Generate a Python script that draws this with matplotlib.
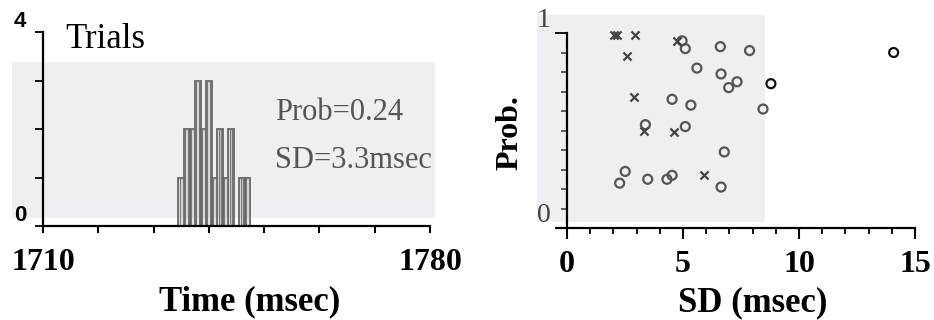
import matplotlib
matplotlib.use("Agg")
import matplotlib.pyplot as plt
from matplotlib.patches import Rectangle
import numpy as np

# histogram (left panel)
bin_times = [1735, 1736, 1737, 1738, 1739, 1740, 1741, 1742, 1743, 1744, 1745, 1746, 1747]
bin_counts = [1, 2, 2, 3, 2, 3, 1, 2, 1, 2, 0, 1, 1]
time_ticks = [1710, 1720, 1730, 1740, 1750, 1760, 1770, 1780]
time_labels = ["1710", "", "", "", "", "", "", "1780"]
trial_ticks = [0, 1, 2, 3, 4]
trial_labels = ["0", "", "", "", "4"]
stats = ["Prob=0.24", "SD=3.3msec"]

# scatter (right panel)
circle_sd = [4.96, 5.10, 6.61, 7.87, 5.60, 6.64, 7.33, 6.97, 4.53, 5.34, 3.38, 5.10,
             6.78, 2.51, 2.27, 3.48, 4.31, 4.53, 6.64, 8.79, 8.45, 14.08]
circle_prob = [0.96, 0.92, 0.93, 0.91, 0.82, 0.79, 0.75, 0.72, 0.66, 0.63, 0.53, 0.52,
               0.39, 0.29, 0.23, 0.25, 0.25, 0.27, 0.21, 0.74, 0.61, 0.90]
cross_sd = [2.02, 2.15, 2.95, 2.59, 4.74, 2.87, 3.30, 4.63, 5.89]
cross_prob = [0.99, 0.99, 0.99, 0.88, 0.96, 0.67, 0.50, 0.49, 0.27]
sd_ticks = [0, 5, 10, 15]
prob_ticks = [0, 1]

plt.rcParams['font.family'] = ['Liberation Serif', 'DejaVu Serif']

W, H = 934, 320
fig = plt.figure(figsize=(W / 100, H / 100), dpi=100)


def px_axes(x0, y0, x1, y1):
    ax = fig.add_axes([x0 / W, 1 - y1 / H, (x1 - x0) / W, (y1 - y0) / H])
    ax.set_zorder(2)
    ax.set_facecolor('none')
    return ax


def px_rect(x0, y0, x1, y1, color):
    fig.patches.append(Rectangle((x0 / W, 1 - y1 / H), (x1 - x0) / W, (y1 - y0) / H,
                                 transform=fig.transFigure, facecolor=color,
                                 edgecolor='none', zorder=-1))


# scanned paper tone behind the data
px_rect(12, 62, 435, 218, '#eeeef3')
px_rect(537, 15, 765, 222, '#eeeef3')

# ---- left: trial histogram
ax1 = px_axes(43, 32, 430, 226)
ax1.bar(bin_times, bin_counts, width=1.0, facecolor='none', edgecolor='#666666', lw=1.3)
ax1.bar(bin_times, bin_counts, width=0.5, facecolor='none', edgecolor='#777777', lw=1.0)
ax1.set_xlim(1710, 1780)
ax1.set_ylim(0, 4)
for s in ['top', 'right']:
    ax1.spines[s].set_visible(False)
for s in ['left', 'bottom']:
    ax1.spines[s].set_linewidth(1.6)
ax1.set_xticks(time_ticks, time_labels)
ax1.set_yticks(trial_ticks, trial_labels)
ax1.tick_params(axis='x', direction='out', length=5, width=1.5, pad=11,
                labelsize=23)
ax1.tick_params(axis='y', direction='out', length=6, width=1.3, pad=6,
                labelsize=16)
for lab in ax1.get_xticklabels():
    lab.set_fontweight('bold')
for lab in ax1.get_yticklabels():
    lab.set_va('bottom')
    lab.set_family('Liberation Sans')
    lab.set_fontweight('bold')

fig.text(65 / W, 1 - 40 / H, "Trials", fontsize=25, ha='left', va='center')
fig.text(275 / W, 1 - 112 / H, stats[0], fontsize=22, color='#555555', ha='left', va='center')
fig.text(275 / W, 1 - 160 / H, stats[1], fontsize=22, color='#555555', ha='left', va='center')
fig.text(250 / W, 1 - 302 / H, "Time (msec)", fontsize=25, fontweight='bold',
         ha='center', va='center')

# ---- right: probability vs SD
ax2 = px_axes(557, 33, 915, 228)
ax2.set_xlim(-0.43, 15)
ax2.set_ylim(0, 1)
ax2.spines['left'].set_position(('data', 0))
for s in ['top', 'right']:
    ax2.spines[s].set_visible(False)
for s in ['left', 'bottom']:
    ax2.spines[s].set_linewidth(1.6)

patch_edge = 8.5
c_col = ['#111111' if x > patch_edge else '#555555' for x in circle_sd]
ax2.scatter(circle_sd, circle_prob, s=42, marker='o', facecolors='none',
            edgecolors=c_col, linewidths=1.6, zorder=3, clip_on=False)
ax2.scatter(cross_sd, cross_prob, s=34, marker='x', color='#444444',
            linewidths=1.6, zorder=3, clip_on=False)

ax2.set_xticks(sd_ticks, [str(t) for t in sd_ticks])
ax2.set_xticks(np.arange(0, 16, 1), minor=True)
ax2.set_yticks(prob_ticks, [str(t) for t in prob_ticks])
ax2.set_yticks(np.arange(0, 1.01, 0.1), minor=True)
ax2.tick_params(axis='x', which='major', direction='out', length=8, width=1.5,
                pad=8, labelsize=23)
ax2.tick_params(axis='x', which='minor', direction='out', length=4, width=1.3)
ax2.tick_params(axis='y', which='major', direction='out', length=9, width=1.3,
                pad=3, labelsize=20, labelcolor='#444444')
ax2.tick_params(axis='y', which='minor', direction='out', length=4, width=1.2,
                color='#444444')
for lab in ax2.get_xticklabels():
    lab.set_fontweight('bold')
for lab in ax2.get_yticklabels():
    lab.set_va('bottom')

fig.text(510 / W, 1 - 133 / H, "Prob.", fontsize=23, fontweight='bold', rotation=90,
         ha='center', va='center')
fig.text(753 / W, 1 - 303 / H, "SD (msec)", fontsize=25, fontweight='bold',
         ha='center', va='center')

fig.savefig("out.png", dpi=100)
